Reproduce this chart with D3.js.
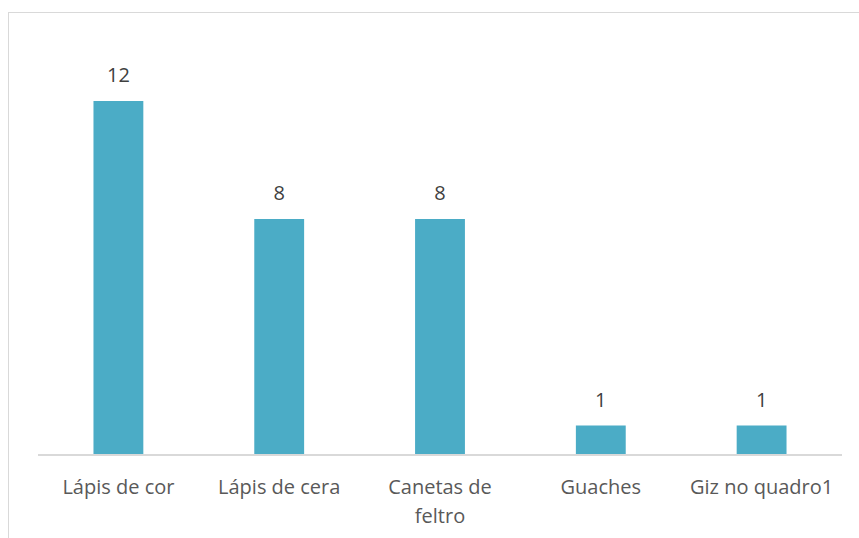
<!DOCTYPE html>
<html>
<head>
<meta charset="utf-8">
<script src="https://cdn.jsdelivr.net/npm/d3@7"></script>
<style>
  html, body { margin: 0; padding: 0; background: #fff; }
  svg { display: block; }
  text { font-family: "Open Sans", sans-serif; }
</style>
</head>
<body>
<svg id="chart" width="859" height="538"></svg>
<script>
const categories = ["Lápis de cor", "Lápis de cera", "Canetas de feltro", "Guaches", "Giz no quadro1"];
const values = [12, 8, 8, 1, 1];

const W = 859, H = 538;
const svg = d3.select("#chart");

// chart frame (only top and left edges are visible in the crop)
svg.append("rect")
  .attr("x", 8.5).attr("y", 12.5)
  .attr("width", 1000).attr("height", 1000)
  .attr("fill", "none").attr("stroke", "#d9d9d9").attr("stroke-width", 1);

const plot = { left: 38, right: 842, top: 101, bottom: 455 };

const x = d3.scaleBand()
  .domain(categories)
  .range([plot.left, plot.right])
  .paddingInner(0.69)
  .paddingOuter(0.345);

const y = d3.scaleLinear()
  .domain([0, d3.max(values)])
  .range([plot.bottom, plot.top]);

const data = categories.map((c, i) => ({ c, v: values[i] }));

svg.append("g").selectAll("rect")
  .data(data)
  .join("rect")
  .attr("x", d => x(d.c))
  .attr("y", d => y(d.v))
  .attr("width", x.bandwidth())
  .attr("height", d => y(0) - y(d.v))
  .attr("fill", "#4bacc6");

// value labels
svg.append("g").selectAll("text")
  .data(data)
  .join("text")
  .attr("x", d => x(d.c) + x.bandwidth() / 2)
  .attr("y", d => y(d.v) - 19)
  .attr("text-anchor", "middle")
  .attr("font-size", 20)
  .attr("fill", "#404040")
  .text(d => d.v);

// x axis
const xAxis = d3.axisBottom(x).tickSize(0).tickPadding(0);
const gx = svg.append("g")
  .attr("transform", `translate(0,${plot.bottom})`)
  .call(xAxis);
gx.select(".domain").attr("stroke", "#d9d9d9").attr("stroke-width", 2)
  .attr("d", `M${plot.left},0H${plot.right}`);
gx.selectAll(".tick text")
  .attr("font-size", 20)
  .attr("font-family", "Open Sans, sans-serif")
  .attr("fill", "#595959")
  .attr("dy", null)
  .attr("y", 39)
  .each(function(d) {
    const t = d3.select(this);
    const maxW = x.step() * 0.97;
    const words = d.split(" ");
    t.text(null);
    let line = [];
    let lineNo = 0;
    let tspan = t.append("tspan").attr("x", 0).attr("y", 39);
    for (const w of words) {
      line.push(w);
      tspan.text(line.join(" "));
      if (tspan.node().getComputedTextLength() > maxW && line.length > 1) {
        line.pop();
        tspan.text(line.join(" "));
        line = [w];
        lineNo++;
        tspan = t.append("tspan").attr("x", 0).attr("y", 39 + lineNo * 29).text(w);
      }
    }
  });
</script>
</body>
</html>
